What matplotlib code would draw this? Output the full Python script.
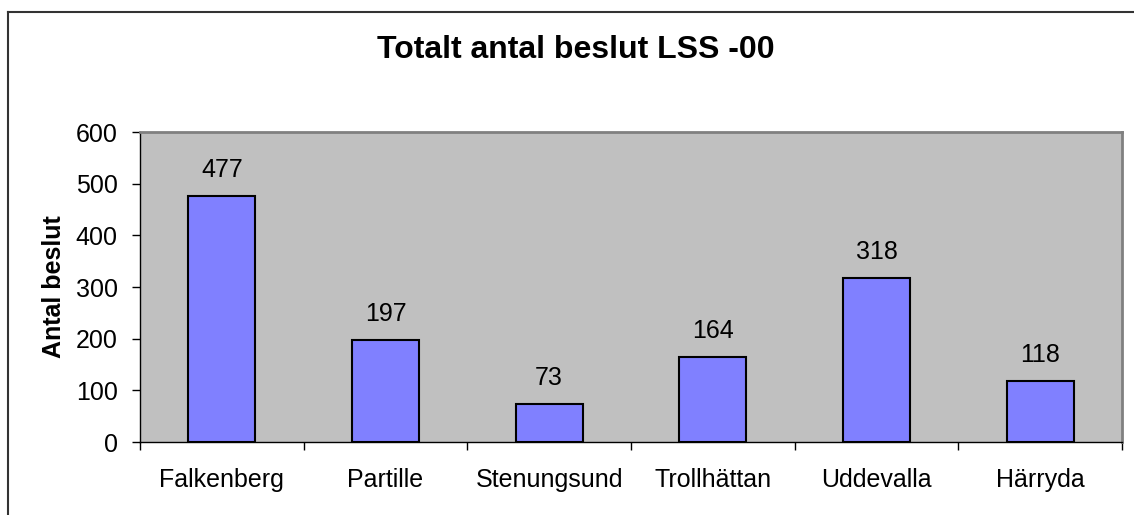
import matplotlib.pyplot as plt
import matplotlib.lines as mlines

# Data
kommuner = ["Falkenberg", "Partille", "Stenungsund", "Trollhättan", "Uddevalla", "Härryda"]
antal_beslut = [477, 197, 73, 164, 318, 118]
y_ticks = [0, 100, 200, 300, 400, 500, 600]

plt.rcParams['font.family'] = ['Liberation Sans', 'DejaVu Sans']

fig = plt.figure(figsize=(11.34, 5.15), dpi=100)
ax = fig.add_axes([140/1134, 1 - 442/515, (1122-140)/1134, (442-132)/515])

ax.set_facecolor('#C0C0C0')
x = list(range(len(kommuner)))
bars = ax.bar(x, antal_beslut, width=0.41, color='#8080FF', edgecolor='black', linewidth=1.5)

for xi, v in zip(x, antal_beslut):
    ax.annotate(str(v), (xi, v), xytext=(0, 10), textcoords='offset points',
                ha='center', va='bottom', fontsize=18)

ax.set_xlim(-0.5, len(kommuner) - 0.5)
ax.set_ylim(0, 600)
ax.set_yticks(y_ticks)
ax.tick_params(axis='y', labelsize=18, length=6, width=1, direction='out', pad=10)

# category labels centered, ticks at boundaries
ax.set_xticks(x)
ax.set_xticklabels(kommuner, fontsize=18)
ax.tick_params(axis='x', which='major', length=0, pad=19)
ax.set_xticks([i - 0.5 for i in range(len(kommuner) + 1)], minor=True)
ax.tick_params(axis='x', which='minor', length=6, width=1, direction='out')

ax.set_ylabel("Antal beslut", fontsize=18, fontweight='bold', labelpad=7)

for side in ['top', 'right']:
    ax.spines[side].set_color('#808080')
    ax.spines[side].set_linewidth(2)
for side in ['left', 'bottom']:
    ax.spines[side].set_color('black')
    ax.spines[side].set_linewidth(1)

fig.text(576/1134, 1 - 50/515, "Totalt antal beslut LSS -00", ha='center', va='center',
         fontsize=23, fontweight='bold')

# outer chart border (left and top visible)
fig.add_artist(mlines.Line2D([8/1134, 8/1134], [0, 1 - 12/515], color='#333333', linewidth=1.5,
                             transform=fig.transFigure))
fig.add_artist(mlines.Line2D([8/1134, 1], [1 - 12/515, 1 - 12/515], color='#333333', linewidth=1.5,
                             transform=fig.transFigure))

fig.savefig("out.png", dpi=100, facecolor='white')
